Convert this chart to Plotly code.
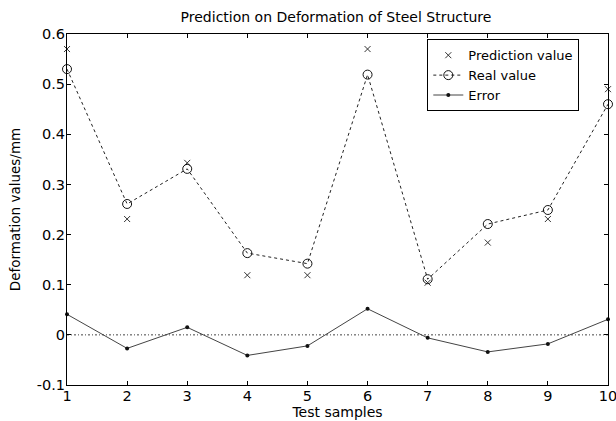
import plotly.graph_objects as go

samples = [1, 2, 3, 4, 5, 6, 7, 8, 9, 10]
prediction = [0.570, 0.231, 0.343, 0.119, 0.119, 0.570, 0.104, 0.184, 0.231, 0.490]
real = [0.530, 0.261, 0.331, 0.163, 0.142, 0.519, 0.111, 0.221, 0.249, 0.460]
error = [0.041, -0.027, 0.015, -0.041, -0.022, 0.052, -0.006, -0.034, -0.018, 0.031]
y_ticks = [-0.1, 0, 0.1, 0.2, 0.3, 0.4, 0.5, 0.6]
y_tick_labels = ["-0.1", "0", "0.1", "0.2", "0.3", "0.4", "0.5", "0.6"]

FONT = "DejaVu Sans, Liberation Sans, Arial, sans-serif"
W, H = 616, 421

fig = go.Figure()
fig.add_trace(go.Scatter(
    x=samples, y=prediction, mode="markers", name="Prediction value", cliponaxis=False,
    marker=dict(symbol="x-thin", size=6, line=dict(width=1, color="#333333"), color="#333333"),
))
fig.add_trace(go.Scatter(
    x=samples, y=real, mode="lines+markers", name="Real value", cliponaxis=False,
    line=dict(color="#222222", width=1, dash="3px,3px"),
    marker=dict(symbol="circle-open", size=9, line=dict(width=1, color="#111111"), color="#111111"),
))
fig.add_trace(go.Scatter(
    x=samples, y=error, mode="lines+markers", name="Error", cliponaxis=False,
    line=dict(color="#444444", width=1),
    marker=dict(symbol="circle", size=4, color="#111111"),
))
fig.add_hline(y=0, line=dict(color="#444444", width=1, dash="2px,2px,1px,2px"), layer="below")

fig.update_layout(
    width=W, height=H,
    margin=dict(l=67, r=8, t=34, b=36, autoexpand=False),
    paper_bgcolor="white", plot_bgcolor="white",
    font=dict(family=FONT, size=14, color="black"),
    title=dict(text="Prediction on Deformation of Steel Structure", x=336 / W, xanchor="center",
               y=1 - 17 / H, yanchor="middle", font=dict(size=14, family=FONT)),
    showlegend=True,
    legend=dict(x=0.666, y=0.985, xanchor="left", yanchor="top",
                bordercolor="black", borderwidth=1, bgcolor="white",
                font=dict(size=13, family=FONT), tracegroupgap=0,
                entrywidth=148, entrywidthmode="pixels"),
    xaxis=dict(range=[1, 10], tickvals=samples, ticks="inside", ticklen=4, tickcolor="black",
               showline=True, linecolor="black", linewidth=1, mirror="ticks", showgrid=False,
               zeroline=False, title=dict(text="Test samples", font=dict(size=14), standoff=1),
               tickfont=dict(size=14.5), ticklabelstandoff=-2, ticklabeloverflow="allow",
               automargin=False),
    yaxis=dict(range=[-0.1, 0.6], tickvals=y_ticks, ticktext=y_tick_labels, ticks="inside", ticklen=4,
               tickcolor="black", showline=True, linecolor="black", linewidth=1, mirror="ticks",
               showgrid=False, zeroline=False,
               title=dict(text="Deformation values/mm", font=dict(size=13.5), standoff=13),
               tickfont=dict(size=14.5), ticklabelstandoff=-2, ticklabeloverflow="allow",
               automargin=False),
)

fig.write_html("out.html", config={"displayModeBar": False},
               post_script="document.body.style.margin='0';document.body.style.overflow='hidden';")
